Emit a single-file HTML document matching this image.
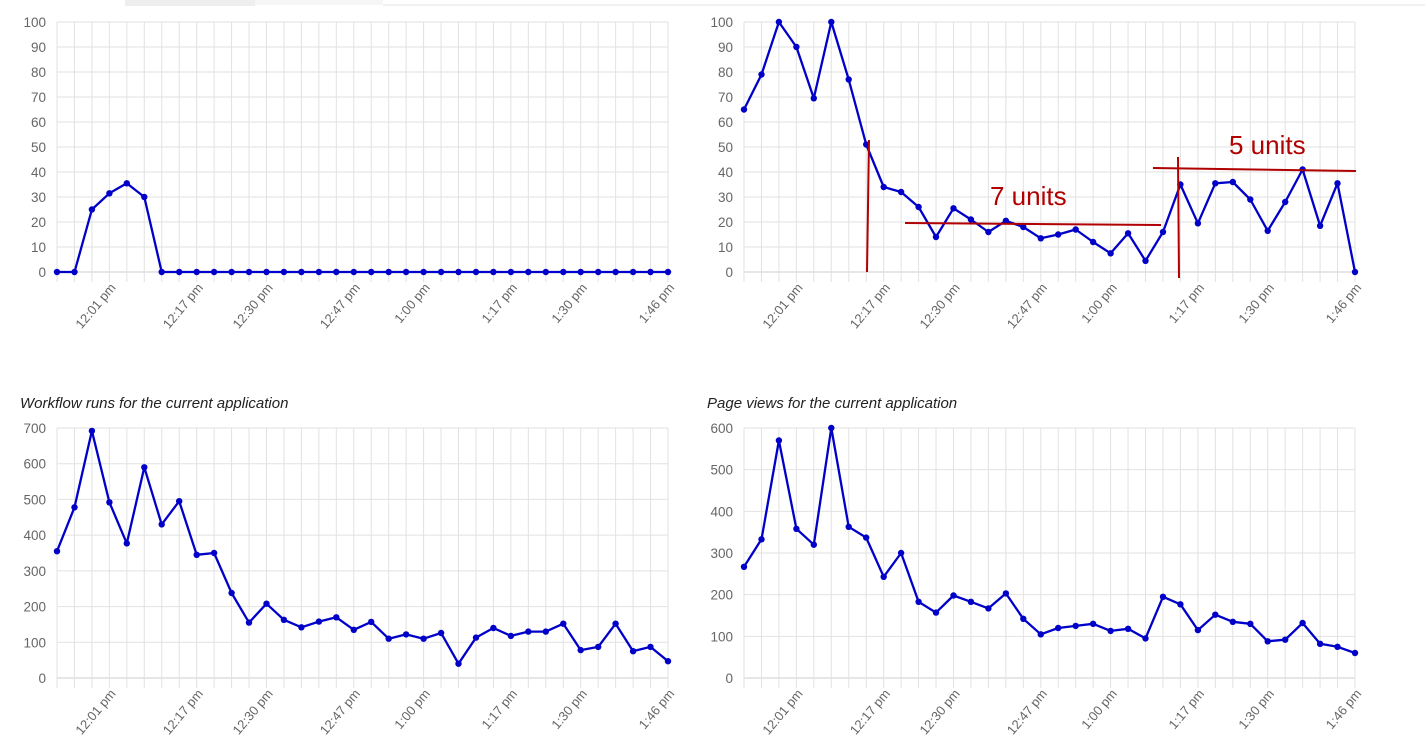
<!DOCTYPE html>
<html><head><meta charset="utf-8">
<style>
html,body{margin:0;padding:0;background:#fff;width:1425px;height:748px;overflow:hidden}
svg{position:absolute;left:0;top:0}
</style></head>
<body>
<svg id="s" width="1425" height="748" xmlns="http://www.w3.org/2000/svg"></svg>
<script>
const S=document.getElementById('s');let h='';
h+='<rect x="125" y="0" width="130" height="6" fill="#eee"/><rect x="255" y="0" width="128" height="5" fill="#f6f6f6"/><line x1="383" y1="5" x2="1425" y2="5" stroke="#e6e6e6"/>';
const labels=[[3,'12:01 pm'],[8,'12:17 pm'],[12,'12:30 pm'],[17,'12:47 pm'],[21,'1:00 pm'],[26,'1:17 pm'],[30,'1:30 pm'],[35,'1:46 pm']];
function chart(x0,x1,yTop,yBot,max,step,data,title){
  const n=36,dx=(x1-x0)/(n-1);
  if(title)h+=`<text x="${x0-37}" y="${yTop-20}" font-family="Liberation Sans,sans-serif" font-style="italic" font-size="15" fill="#222">${title}</text>`;
  for(let v=0;v<=max;v+=step){const y=yBot-(v/max)*(yBot-yTop);
    h+=`<line x1="${x0}" y1="${y}" x2="${x1}" y2="${y}" stroke="${v==0?'#ccc':'#e2e2e2'}"/>`;
    h+=`<text x="${x0-11}" y="${y+5}" text-anchor="end" font-family="Liberation Sans,sans-serif" font-size="13.5" fill="#666">${v}</text>`;}
  for(let i=0;i<n;i++){const x=x0+i*dx;h+=`<line x1="${x}" y1="${yTop}" x2="${x}" y2="${yBot+10}" stroke="#e2e2e2"/>`;}
  for(const [i,t] of labels){const x=x0+i*dx+7,y=yBot+16;
    h+=`<text x="${x}" y="${y}" text-anchor="end" transform="rotate(-50 ${x} ${y})" font-family="Liberation Sans,sans-serif" font-size="13" fill="#666">${t}</text>`;}
  let p='';data.forEach((v,i)=>{p+=(i?'L':'M')+(x0+i*dx).toFixed(1)+','+(yBot-(v/max)*(yBot-yTop)).toFixed(1);});
  h+=`<path d="${p}" fill="none" stroke="#0000c8" stroke-width="2.3" stroke-linejoin="round"/>`;
  data.forEach((v,i)=>{h+=`<circle cx="${(x0+i*dx).toFixed(1)}" cy="${(yBot-(v/max)*(yBot-yTop)).toFixed(1)}" r="3.2" fill="#0000c8"/>`;});
}
const z=new Array(36).fill(0);const a=z.slice();a[2]=25;a[3]=31.5;a[4]=35.5;a[5]=30;
chart(57,668,22,272,100,10,a,'');
chart(744,1355,22,272,100,10,[65,79,100,90,69.5,100,77,51,34,32,26,14,25.5,21,16,20.5,18,13.5,15,17,12,7.5,15.5,4.5,16,35,19.5,35.5,36,29,16.5,28,41,18.5,35.5,0],'');
chart(57,668,428,678,700,100,[355,478,692,492,377,590,430,495,345,350,238,155,208,163,142,158,170,135,157,110,122,110,126,40,113,140,118,130,130,152,78,87,152,75,87,47],'Workflow runs for the current application');
chart(744,1355,428,678,600,100,[267,333,570,358,320,600,363,337,243,300,183,157,198,183,167,203,142,105,120,125,130,113,118,95,195,177,115,152,135,130,88,92,132,82,75,60],'Page views for the current application');
const R='#b00000';
h+=`<line x1="869" y1="140" x2="867" y2="272" stroke="${R}" stroke-width="2"/>`;
h+=`<line x1="905" y1="223" x2="1161" y2="225" stroke="${R}" stroke-width="2"/>`;
h+=`<line x1="1178" y1="157" x2="1179" y2="278" stroke="${R}" stroke-width="2"/>`;
h+=`<line x1="1153" y1="168" x2="1356" y2="171" stroke="${R}" stroke-width="2"/>`;
h+=`<text x="990" y="205" font-family="Liberation Sans,sans-serif" font-size="26" fill="${R}">7 units</text>`;
h+=`<text x="1229" y="154" font-family="Liberation Sans,sans-serif" font-size="26" fill="${R}">5 units</text>`;
S.innerHTML=h;
</script>
</body></html>
